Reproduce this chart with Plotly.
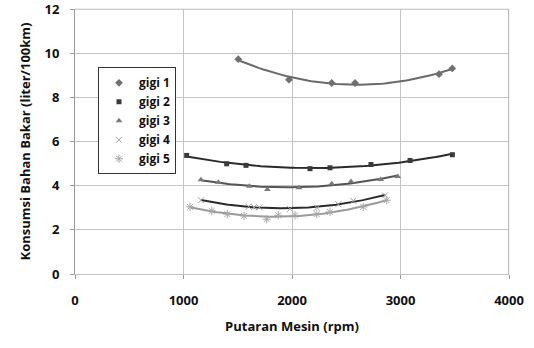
import numpy as np
import plotly.graph_objects as go

# Data
g1_x = [1505, 1972, 2366, 2581, 3355, 3477]
g1_y = [9.73, 8.80, 8.65, 8.65, 9.05, 9.31]

g2_x = [1029, 1398, 1576, 2166, 2350, 2728, 3088, 3478]
g2_y = [5.37, 4.99, 4.92, 4.77, 4.81, 4.96, 5.14, 5.40]

g3_x = [1161, 1321, 1607, 1773, 2065, 2366, 2544, 2817, 2974]
g3_y = [4.27, 4.16, 3.97, 3.83, 3.91, 4.09, 4.19, 4.28, 4.42]

g4_x = [1161, 1600, 1650, 1700, 1982, 2230, 2427, 2565, 2857]
g4_y = [3.34, 3.05, 3.03, 3.02, 2.95, 3.00, 3.16, 3.31, 3.56]

g5_x = [1060, 1260, 1404, 1558, 1767, 1874, 2028, 2228, 2350, 2657, 2873]
g5_y = [3.04, 2.86, 2.71, 2.63, 2.48, 2.66, 2.66, 2.71, 2.81, 3.04, 3.34]

names = ["gigi 1", "gigi 2", "gigi 3", "gigi 4", "gigi 5"]
series = [(g1_x, g1_y), (g2_x, g2_y), (g3_x, g3_y), (g4_x, g4_y), (g5_x, g5_y)]

marker_styles = [
    dict(symbol="diamond", color="#707070", size=6),
    dict(symbol="square", color="#3a3a3a", size=5),
    dict(symbol="triangle-up", color="#7a7a7a", size=6),
    dict(symbol="x-thin-open", color="#a0a0a0", size=6, line=dict(width=1, color="#a0a0a0")),
    dict(symbol="asterisk-open", color="#a8a8a8", size=7, line=dict(width=1, color="#a8a8a8")),
]
line_colors = ["#6a6a6a", "#2a2a2a", "#555555", "#2a2a2a", "#9a9a9a"]

fig = go.Figure()

# polynomial (order 2) trendlines, as in the original
for (xs, ys), lc in zip(series, line_colors):
    c = np.polyfit(xs, ys, 2)
    tx = np.linspace(min(xs), max(xs), 80)
    fig.add_trace(go.Scatter(x=tx, y=np.polyval(c, tx), mode="lines",
                             line=dict(color=lc, width=2), showlegend=False,
                             hoverinfo="skip"))

for (xs, ys), nm, ms in zip(series, names, marker_styles):
    fig.add_trace(go.Scatter(x=xs, y=ys, mode="markers", name=nm, marker=ms))

font_family = "Open Sans, Lato, sans-serif"
grid = "#c4c4c4"

fig.update_layout(
    width=534, height=348,
    margin=dict(l=75, r=25, t=9, b=74, autoexpand=False),
    paper_bgcolor="white", plot_bgcolor="white",
    font=dict(family=font_family, size=12, color="#111111"),
    showlegend=True,
    legend=dict(x=0.053, y=0.78, xanchor="left", yanchor="top",
                bgcolor="white", bordercolor="#333333", borderwidth=1,
                font=dict(size=12, family=font_family, color="#111111", weight="bold"),
                tracegroupgap=0),
    xaxis=dict(range=[0, 4000], tickvals=[0, 1000, 2000, 3000, 4000],
               showgrid=True, gridcolor=grid, gridwidth=1, automargin=False,
               zeroline=False, showline=True, linecolor=grid,
               ticks="outside", ticklen=4, tickcolor="#9a9a9a",
               ticklabelstandoff=10,
               tickfont=dict(size=13, weight="bold"),
               title=dict(text="Putaran Mesin (rpm)", standoff=14,
                          font=dict(size=13, weight="bold"))),
    yaxis=dict(range=[0, 12], tickvals=[0, 2, 4, 6, 8, 10, 12],
               ticktext=["0", "2", "4", "6", "8", "10", "12"],
               showgrid=True, gridcolor=grid, gridwidth=1, automargin=False,
               zeroline=False, showline=True, linecolor="#9a9a9a",
               ticks="outside", ticklen=4, tickcolor="#9a9a9a",
               ticklabelstandoff=8, ticklabeloverflow="allow",
               tickfont=dict(size=13, weight="bold"),
               title=dict(text="Konsumsi Bahan Bakar (liter/100km)", standoff=10,
                          font=dict(size=13, weight="bold"))),
    shapes=[
        dict(type="line", xref="paper", yref="paper", x0=0, x1=1, y0=0.999, y1=0.999,
             line=dict(color="#bbbbbb", width=1.2), layer="above"),
        dict(type="line", xref="paper", yref="paper", x0=0.999, x1=0.999, y0=0, y1=1,
             line=dict(color="#bbbbbb", width=1.2), layer="above"),
    ],
)

fig.write_html("out.html")
